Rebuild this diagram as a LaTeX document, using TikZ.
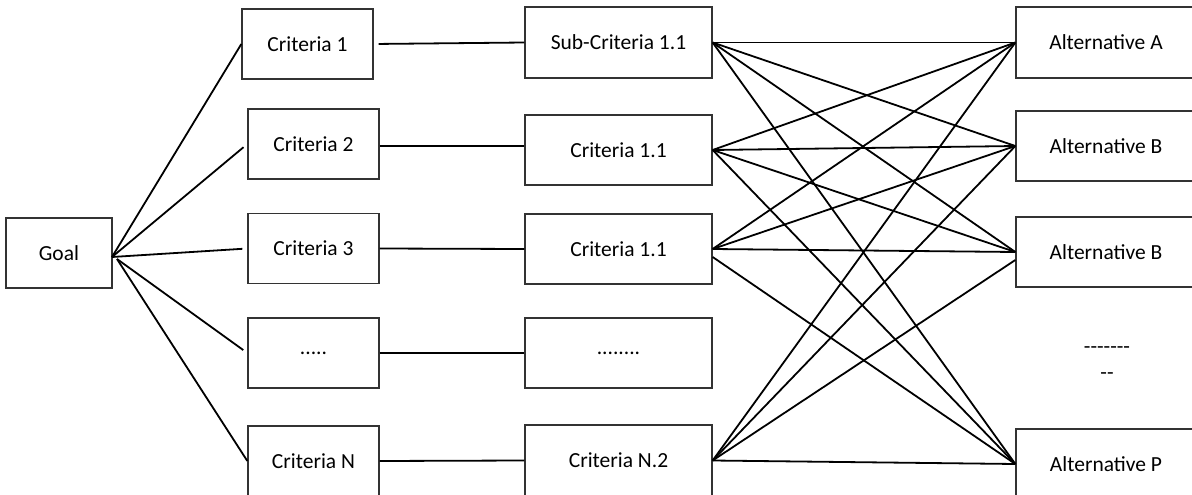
\documentclass[tikz,border=0pt]{standalone}
\usepackage{fontspec}
\setmainfont{Carlito}
\begin{document}
\begin{tikzpicture}[x=1pt,y=-1pt,
  txt/.style={font=\fontsize{21.5}{26}\selectfont},
  box/.style={txt,draw=black!80,line width=1.3pt,inner sep=0pt,minimum height=70pt},
  cbox/.style={box,minimum width=131pt},
  mbox/.style={box,minimum width=187pt},
  abox/.style={box,minimum width=180pt},
  link/.style={draw=black,line width=1.8pt}]
\useasboundingbox (0,0) rectangle (1192,495);
% goal
\node[box,minimum width=106pt] (goal) at (59,253) {Goal};
\coordinate (g) at (112,257);
\coordinate (gb) at (117,259);
% criteria
\node[cbox] (c1) at (307.5,44) {Criteria 1};
\node[cbox] (c2) at (313.5,144) {Criteria 2};
\node[cbox] (c3) at (313.5,248.5) {Criteria 3};
\node[cbox] (c4) at (313.5,353) {.....};
\node[cbox] (c5) at (313.5,461) {Criteria N};
% middle
\node[mbox,minimum height=71pt] (m1) at (618.5,42.5) {Sub-Criteria 1.1};
\node[mbox] (m2) at (618.5,150) {Criteria 1.1};
\node[mbox] (m3) at (618.5,249) {Criteria 1.1};
\node[mbox] (m4) at (618.5,353) {........};
\node[mbox,minimum height=71pt] (m5) at (618.5,460.5) {Criteria N.2};
% alternatives
\node[abox,minimum height=71pt] (a1) at (1106,42.5) {Alternative A};
\node[abox] (a2) at (1106,146) {Alternative B};
\node[abox] (a3) at (1106,252) {Alternative B};
\node[abox] (a5) at (1106,464) {Alternative P};
\node[txt,align=center,inner sep=0pt] (a4) at (1107,363) {-{}-{}-{}-{}-{}-{}-\\-{}-};
% goal links
\draw[link] (g) -- (c1.west);
\draw[link,shorten >=5pt] (g) -- (c2.west);
\draw[link,shorten >=5pt] (g) -- (c3.west);
\draw[link,shorten >=5pt] (gb) -- (c4.west);
\draw[link] (gb) -- (c5.west);
% criteria to middle
\draw[link,shorten <=5pt] (c1.east) -- (m1.west);
\draw[link] ([yshift=-2pt]c2.east) -- ([yshift=4pt]m2.west);
\draw[link] (c3.east) -- (m3.west);
\draw[link] (c4.east) -- (m4.west);
\draw[link] (c5.east) -- (m5.west);
% middle to alternatives
\foreach \m in {m1,m2,m3}{
  \foreach \a in {a1,a2,a3}{
    \draw[link] (\m.east) -- (\a.west);
  }
}
\draw[link] (m1.east) -- (a5.west);
\draw[link] (m2.east) -- (a5.west);
\draw[link] ([yshift=-8pt]m3.east) -- (a5.west);
\draw[link] (m5.east) -- (a1.west);
\draw[link] (m5.east) -- (a2.west);
\draw[link] (m5.east) -- ([yshift=-8pt]a3.west);
\draw[link] (m5.east) -- (a5.west);
\end{tikzpicture}
\end{document}
